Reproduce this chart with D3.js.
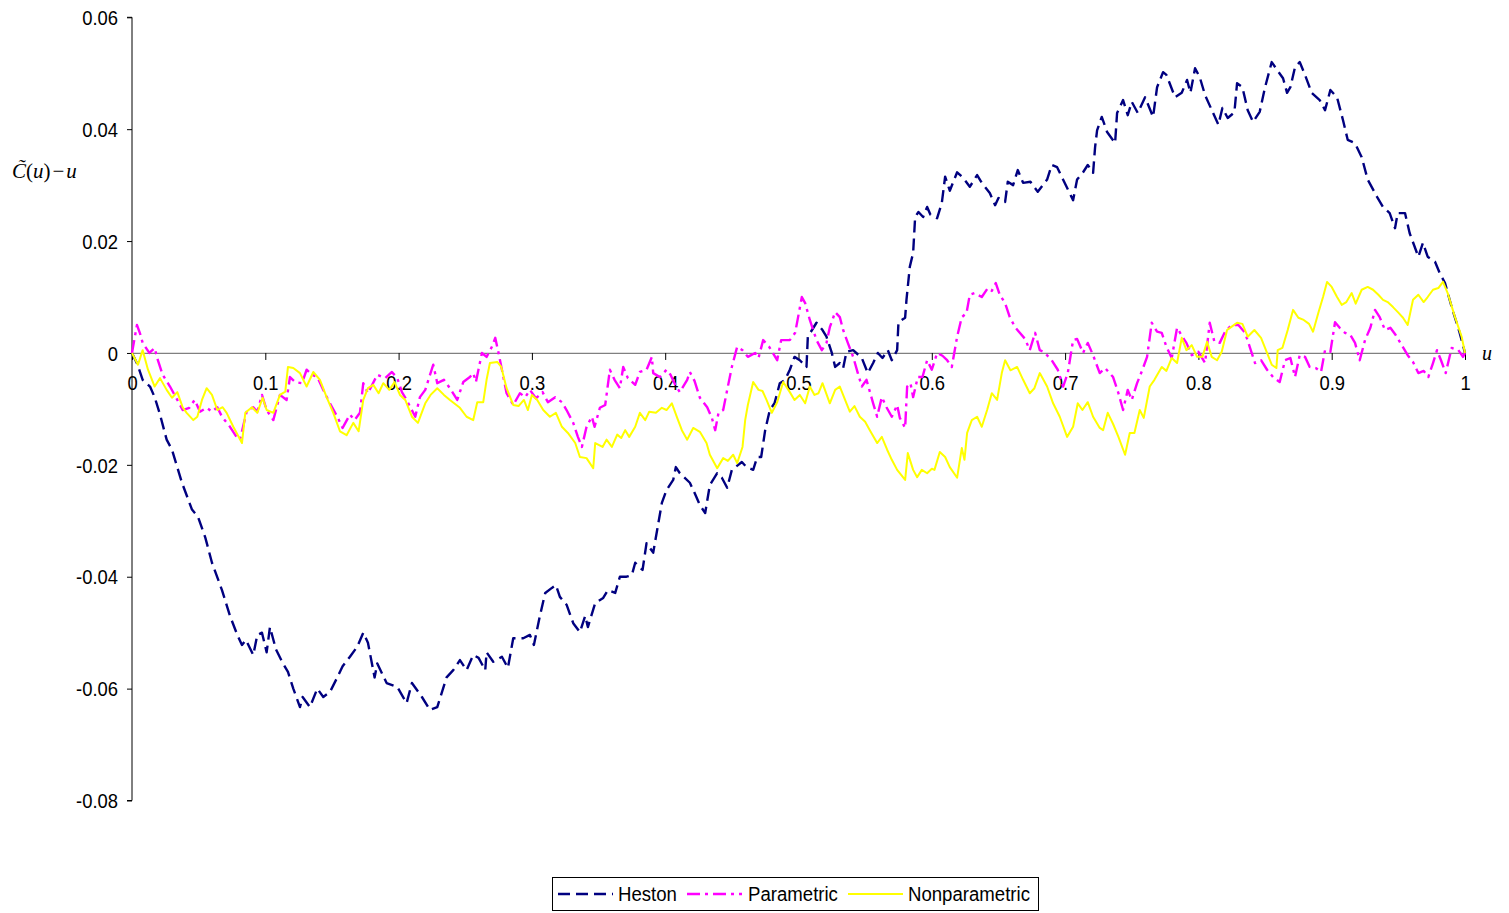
<!DOCTYPE html>
<html>
<head>
<meta charset="utf-8">
<script src="https://cdn.jsdelivr.net/npm/d3@7"></script>
<style>
  html, body { margin: 0; padding: 0; background: #fff; }
  svg { display: block; }
  .tick-label { font-family: "Liberation Sans", Arial, Helvetica, sans-serif; font-size: 20px; fill: #000; }
  .legend-text { font-family: "Liberation Sans", Arial, Helvetica, sans-serif; font-size: 20px; fill: #000; }
  .math { font-family: "Liberation Serif", "Times New Roman", serif; fill: #000; }
</style>
</head>
<body>
<svg id="chart" width="1509" height="913"></svg>
<script>
// Deviation of the estimated copula diagonal from u, for three estimators: [u, C~(u) - u]
const heston = [
  [0,0],[0.004,-0.002],[0.008,-0.0048],[0.0135,-0.006],[0.017,-0.0079],[0.021,-0.011],[0.026,-0.0155],
  [0.03,-0.0173],[0.0375,-0.0232],[0.045,-0.028],[0.0495,-0.0293],[0.055,-0.033],[0.06,-0.0375],
  [0.0675,-0.0424],[0.0735,-0.047],[0.079,-0.0504],[0.0825,-0.0522],[0.0855,-0.0513],[0.091,-0.054],
  [0.094,-0.0504],[0.0975,-0.05],[0.101,-0.0535],[0.1035,-0.049],[0.108,-0.053],[0.113,-0.0554],
  [0.117,-0.057],[0.121,-0.06],[0.126,-0.0633],[0.128,-0.0615],[0.1335,-0.0633],[0.139,-0.06],
  [0.1435,-0.0615],[0.1485,-0.0606],[0.154,-0.058],[0.158,-0.056],[0.1635,-0.0543],[0.169,-0.0525],
  [0.1735,-0.05],[0.177,-0.0518],[0.182,-0.058],[0.184,-0.0555],[0.191,-0.059],[0.199,-0.0597],
  [0.206,-0.0626],[0.21,-0.059],[0.2175,-0.0615],[0.2235,-0.0638],[0.229,-0.0633],[0.236,-0.058],
  [0.241,-0.0567],[0.246,-0.0549],[0.251,-0.0567],[0.256,-0.054],[0.26,-0.0545],[0.265,-0.0567],
  [0.266,-0.0535],[0.271,-0.0552],[0.2775,-0.0543],[0.282,-0.0563],[0.286,-0.051],[0.2935,-0.051],
  [0.2985,-0.0504],[0.3015,-0.0522],[0.306,-0.047],[0.31,-0.0429],[0.315,-0.042],[0.318,-0.0415],
  [0.321,-0.0436],[0.326,-0.045],[0.331,-0.0483],[0.336,-0.0499],[0.34,-0.047],[0.342,-0.049],
  [0.3475,-0.0447],[0.3535,-0.0438],[0.357,-0.0424],[0.3625,-0.0429],[0.366,-0.04],[0.371,-0.04],
  [0.375,-0.0397],[0.3775,-0.0375],[0.383,-0.0388],[0.386,-0.034],[0.391,-0.0357],[0.394,-0.0316],
  [0.3975,-0.0268],[0.401,-0.0245],[0.406,-0.0227],[0.408,-0.0204],[0.411,-0.0215],[0.4185,-0.0232],
  [0.422,-0.025],[0.426,-0.0272],[0.43,-0.0286],[0.4335,-0.0236],[0.439,-0.0215],[0.4425,-0.0223],
  [0.4465,-0.0241],[0.45,-0.0209],[0.4575,-0.0195],[0.461,-0.0204],[0.466,-0.0209],[0.469,-0.0186],
  [0.472,-0.0186],[0.475,-0.0138],[0.4785,-0.0102],[0.482,-0.009],[0.486,-0.0054],[0.49,-0.0048],
  [0.4935,-0.003],[0.497,-0.0007],[0.501,-0.0013],[0.506,-0.0025],[0.507,0.0029],[0.5135,0.0054],
  [0.518,0.0041],[0.521,0.0029],[0.525,0],[0.5275,-0.0025],[0.531,-0.0018],[0.5335,-0.0027],
  [0.536,0.0002],[0.541,0.0005],[0.5475,-0.0009],[0.552,-0.0036],[0.556,-0.0018],[0.5595,0],
  [0.563,-0.0009],[0.567,0.0005],[0.57,-0.0013],[0.574,0.0005],[0.575,0.0055],[0.58,0.0063],
  [0.581,0.0095],[0.5835,0.0154],[0.586,0.0179],[0.5875,0.0243],[0.59,0.0252],[0.5935,0.0243],
  [0.5965,0.0261],[0.599,0.0247],[0.604,0.0241],[0.6075,0.0268],[0.61,0.0315],[0.6135,0.029],
  [0.619,0.0323],[0.6235,0.0313],[0.6285,0.0297],[0.634,0.0318],[0.6375,0.0304],[0.6435,0.0286],
  [0.6475,0.0264],[0.65,0.0277],[0.655,0.027],[0.657,0.0306],[0.661,0.03],[0.6645,0.0327],
  [0.6685,0.0304],[0.674,0.0306],[0.6795,0.0288],[0.6865,0.031],[0.69,0.0336],[0.694,0.0332],
  [0.706,0.0273],[0.709,0.031],[0.7135,0.0323],[0.717,0.0336],[0.721,0.0322],[0.7225,0.0368],
  [0.724,0.0398],[0.7275,0.0422],[0.7315,0.0395],[0.7375,0.0375],[0.739,0.0429],[0.7435,0.0452],
  [0.747,0.0425],[0.75,0.0449],[0.7545,0.0429],[0.76,0.0457],[0.766,0.0422],[0.769,0.0475],
  [0.7735,0.0502],[0.776,0.0497],[0.7825,0.0457],[0.7875,0.0465],[0.7915,0.0488],[0.794,0.0465],
  [0.7975,0.0509],[0.801,0.0493],[0.805,0.0461],[0.811,0.0429],[0.815,0.0408],[0.818,0.0438],
  [0.822,0.042],[0.827,0.043],[0.829,0.0482],[0.833,0.0475],[0.837,0.0434],[0.841,0.0413],
  [0.846,0.0431],[0.85,0.0475],[0.855,0.052],[0.859,0.0506],[0.8635,0.0491],[0.8665,0.0465],
  [0.869,0.0475],[0.8725,0.0511],[0.876,0.052],[0.88,0.0497],[0.885,0.0465],[0.891,0.0452],
  [0.895,0.0434],[0.899,0.047],[0.904,0.0457],[0.9085,0.0416],[0.912,0.0381],[0.9175,0.0375],
  [0.9225,0.035],[0.927,0.031],[0.934,0.0279],[0.9385,0.0261],[0.9435,0.025],[0.9475,0.0223],
  [0.9495,0.025],[0.955,0.025],[0.9585,0.0214],[0.965,0.0172],[0.9685,0.0197],[0.972,0.0172],
  [0.9775,0.0163],[0.981,0.0143],[0.985,0.0125],[0.99,0.0082],[0.996,0.0036],[1,0]
];

const parametric = [
  [0,0],[0.0037,0.005],[0.006,0.0035],[0.008,0.0018],[0.013,0],[0.017,0.0009],[0.019,-0.001],
  [0.023,-0.0039],[0.0285,-0.006],[0.034,-0.0084],[0.038,-0.0102],[0.043,-0.0098],[0.047,-0.0084],
  [0.051,-0.0105],[0.056,-0.0098],[0.06,-0.0105],[0.064,-0.0097],[0.0675,-0.0114],[0.0735,-0.0132],
  [0.079,-0.0152],[0.081,-0.0155],[0.086,-0.0105],[0.091,-0.0097],[0.094,-0.0105],[0.0975,-0.0075],
  [0.101,-0.0102],[0.106,-0.012],[0.111,-0.0075],[0.116,-0.0084],[0.1185,-0.0043],[0.1225,-0.0052],
  [0.1275,-0.0054],[0.131,-0.003],[0.135,-0.0039],[0.139,-0.0043],[0.1435,-0.0066],[0.1485,-0.009],
  [0.154,-0.0114],[0.158,-0.0134],[0.1635,-0.011],[0.167,-0.012],[0.171,-0.0107],[0.1735,-0.0054],
  [0.177,-0.0072],[0.184,-0.0039],[0.19,-0.0045],[0.195,-0.0034],[0.199,-0.0045],[0.2025,-0.007],
  [0.206,-0.0084],[0.2125,-0.0114],[0.216,-0.0079],[0.22,-0.0066],[0.226,-0.0021],[0.229,-0.0054],
  [0.234,-0.0048],[0.2385,-0.0063],[0.244,-0.0084],[0.2485,-0.0052],[0.2535,-0.0043],[0.256,-0.0036],
  [0.258,-0.0052],[0.2625,0],[0.266,-0.0007],[0.27,0.0011],[0.2725,0.0027],[0.275,0],
  [0.281,-0.0072],[0.286,-0.0093],[0.291,-0.0072],[0.295,-0.0079],[0.2985,-0.0066],[0.303,-0.0081],
  [0.308,-0.007],[0.312,-0.0088],[0.3175,-0.0079],[0.3225,-0.0088],[0.326,-0.0102],[0.331,-0.0125],
  [0.3345,-0.015],[0.3375,-0.0168],[0.341,-0.0132],[0.345,-0.0114],[0.347,-0.0132],[0.351,-0.0098],
  [0.355,-0.0093],[0.3585,-0.003],[0.362,-0.0048],[0.366,-0.0063],[0.3685,-0.0025],[0.372,-0.0045],
  [0.3775,-0.0057],[0.381,-0.0034],[0.386,-0.003],[0.39,-0.0007],[0.391,-0.0036],[0.396,-0.0043],
  [0.401,-0.003],[0.404,-0.0039],[0.4075,-0.0057],[0.411,-0.007],[0.4165,-0.0048],[0.4185,-0.0034],
  [0.422,-0.005],[0.426,-0.008],[0.4315,-0.0097],[0.435,-0.0116],[0.4375,-0.0138],[0.44,-0.0107],
  [0.4435,-0.0102],[0.4465,-0.0066],[0.45,-0.0025],[0.454,0.0011],[0.458,0.0005],[0.462,-0.0007],
  [0.4675,0],[0.47,-0.0009],[0.4735,0.0023],[0.478,0.0011],[0.484,-0.0013],[0.487,0.0023],
  [0.4935,0.0023],[0.4975,0.0036],[0.5025,0.01],[0.505,0.0089],[0.5085,0.0059],[0.5135,0.0023],
  [0.5175,0.0005],[0.521,0.0018],[0.5235,0.0046],[0.5275,0.0073],[0.531,0.0064],[0.5335,0.0041],
  [0.537,0.0018],[0.541,-0.0007],[0.5445,-0.0036],[0.5475,-0.006],[0.551,-0.0048],[0.556,-0.009],
  [0.559,-0.0114],[0.5625,-0.0079],[0.566,-0.0097],[0.57,-0.0114],[0.574,-0.0093],[0.576,-0.0116],
  [0.58,-0.0134],[0.5815,-0.006],[0.584,-0.0054],[0.586,-0.0079],[0.5895,-0.0043],[0.593,-0.0043],
  [0.5965,-0.0013],[0.6,-0.003],[0.604,0],[0.608,-0.0005],[0.6115,-0.0013],[0.615,-0.0025],
  [0.619,0.0029],[0.6225,0.0064],[0.626,0.0071],[0.6285,0.0104],[0.632,0.0107],[0.6375,0.01],
  [0.642,0.0116],[0.645,0.0111],[0.648,0.0125],[0.651,0.0104],[0.655,0.0089],[0.6585,0.0064],
  [0.6625,0.0046],[0.666,0.0036],[0.67,0.0025],[0.6735,0.0005],[0.6775,0.0036],[0.681,0.0005],
  [0.684,0.0002],[0.69,-0.0013],[0.6945,-0.003],[0.6985,-0.006],[0.702,-0.0036],[0.706,0.0023],
  [0.709,0.0025],[0.7135,0],[0.717,0.0018],[0.721,-0.0004],[0.726,-0.0036],[0.73,-0.0027],
  [0.736,-0.0043],[0.74,-0.0072],[0.7435,-0.0102],[0.747,-0.0066],[0.75,-0.0084],[0.754,-0.0054],
  [0.758,-0.003],[0.7615,-0.0007],[0.765,0.0054],[0.769,0.0038],[0.7725,0.0036],[0.776,0.0011],
  [0.78,-0.0009],[0.784,0.0045],[0.788,0.0029],[0.791,0.0018],[0.795,-0.0004],[0.8,0.0002],
  [0.805,-0.0018],[0.8085,0.0054],[0.812,0.002],[0.816,0.0018],[0.82,0.0038],[0.825,0.005],
  [0.83,0.005],[0.835,0.0036],[0.8385,0.0011],[0.8425,-0.0018],[0.847,-0.0013],[0.8515,-0.003],
  [0.856,-0.0043],[0.861,-0.0052],[0.865,-0.0013],[0.869,-0.0009],[0.8725,-0.0043],[0.876,-0.0004],
  [0.88,-0.0007],[0.8835,-0.0025],[0.888,-0.0027],[0.892,-0.0034],[0.895,0.0005],[0.899,0.0002],
  [0.9025,0.0055],[0.906,0.0045],[0.91,0.0036],[0.914,0.0032],[0.9175,0.0018],[0.921,-0.0013],
  [0.925,0.0023],[0.929,0.0045],[0.9325,0.0077],[0.936,0.0064],[0.94,0.0041],[0.944,0.0045],
  [0.948,0.0032],[0.9525,0.0014],[0.957,-0.0004],[0.961,-0.0016],[0.965,-0.0036],[0.969,-0.0032],
  [0.9725,-0.0043],[0.976,-0.0018],[0.979,0.0005],[0.982,-0.0013],[0.9855,-0.0036],[0.99,0.0009],
  [0.995,0.0005],[0.9985,-0.0007],[1,0]
];

const nonparametric = [
  [0,0],[0.0045,-0.0021],[0.008,0.0005],[0.012,-0.003],[0.017,-0.006],[0.021,-0.0045],[0.026,-0.0066],
  [0.03,-0.008],[0.034,-0.007],[0.038,-0.0097],[0.041,-0.0107],[0.046,-0.012],[0.049,-0.0114],
  [0.0525,-0.0084],[0.056,-0.0063],[0.06,-0.0075],[0.064,-0.0102],[0.068,-0.0097],[0.071,-0.0107],
  [0.076,-0.0132],[0.0825,-0.0161],[0.085,-0.0107],[0.09,-0.0097],[0.094,-0.0107],[0.098,-0.008],
  [0.101,-0.0102],[0.106,-0.0107],[0.111,-0.0075],[0.115,-0.0069],[0.117,-0.0025],[0.121,-0.0027],
  [0.126,-0.0036],[0.131,-0.006],[0.136,-0.0034],[0.141,-0.0048],[0.146,-0.0079],[0.151,-0.0107],
  [0.156,-0.014],[0.161,-0.0147],[0.166,-0.0125],[0.17,-0.014],[0.1735,-0.0084],[0.177,-0.0063],
  [0.181,-0.0057],[0.185,-0.0072],[0.1885,-0.0054],[0.193,-0.0066],[0.197,-0.0052],[0.201,-0.0075],
  [0.205,-0.0084],[0.21,-0.0114],[0.2145,-0.0125],[0.22,-0.009],[0.224,-0.0075],[0.229,-0.0063],
  [0.234,-0.0075],[0.2385,-0.0084],[0.246,-0.0098],[0.251,-0.0114],[0.256,-0.012],[0.259,-0.0088],
  [0.2635,-0.0088],[0.266,-0.0048],[0.2685,-0.0018],[0.274,-0.0016],[0.277,-0.0025],[0.281,-0.0063],
  [0.286,-0.0093],[0.29,-0.0095],[0.294,-0.0084],[0.297,-0.0102],[0.3,-0.0075],[0.304,-0.0084],
  [0.3085,-0.0102],[0.3135,-0.0114],[0.318,-0.0107],[0.3225,-0.0132],[0.327,-0.0143],[0.3325,-0.0161],
  [0.336,-0.0186],[0.341,-0.0188],[0.346,-0.0206],[0.3475,-0.0161],[0.353,-0.0168],[0.356,-0.0155],
  [0.36,-0.0168],[0.364,-0.0146],[0.367,-0.0152],[0.37,-0.0138],[0.373,-0.015],[0.3775,-0.0132],
  [0.381,-0.0107],[0.385,-0.012],[0.388,-0.0105],[0.393,-0.0107],[0.3975,-0.0098],[0.401,-0.0102],
  [0.405,-0.009],[0.409,-0.0116],[0.4125,-0.0138],[0.4165,-0.0155],[0.421,-0.0134],[0.426,-0.0141],
  [0.431,-0.0161],[0.4335,-0.0182],[0.439,-0.0206],[0.4435,-0.0188],[0.447,-0.0193],[0.451,-0.0182],
  [0.454,-0.0197],[0.458,-0.0168],[0.46,-0.012],[0.462,-0.0093],[0.466,-0.0052],[0.47,-0.0066],
  [0.473,-0.0068],[0.476,-0.0084],[0.48,-0.0107],[0.484,-0.0088],[0.4885,-0.0052],[0.4935,-0.007],
  [0.497,-0.0084],[0.501,-0.0075],[0.505,-0.009],[0.5085,-0.006],[0.512,-0.0075],[0.515,-0.0072],
  [0.518,-0.0054],[0.5235,-0.009],[0.5275,-0.0066],[0.531,-0.006],[0.536,-0.009],[0.5385,-0.0105],
  [0.542,-0.0095],[0.546,-0.0114],[0.55,-0.0123],[0.5535,-0.0138],[0.559,-0.0161],[0.5625,-0.015],
  [0.5665,-0.0173],[0.57,-0.0191],[0.574,-0.0209],[0.58,-0.0227],[0.582,-0.0179],[0.586,-0.0209],
  [0.589,-0.0222],[0.5925,-0.0209],[0.5965,-0.0215],[0.6,-0.0207],[0.602,-0.0209],[0.606,-0.0177],
  [0.61,-0.0186],[0.6135,-0.0204],[0.619,-0.0223],[0.6225,-0.017],[0.6245,-0.0191],[0.6265,-0.0143],
  [0.63,-0.012],[0.634,-0.0114],[0.6375,-0.0132],[0.6415,-0.0102],[0.645,-0.0072],[0.649,-0.0084],
  [0.6525,-0.0036],[0.655,-0.0013],[0.659,-0.0031],[0.664,-0.0025],[0.6685,-0.0048],[0.6735,-0.0072],
  [0.677,-0.0063],[0.681,-0.0036],[0.6865,-0.006],[0.691,-0.009],[0.696,-0.0114],[0.7015,-0.015],
  [0.706,-0.0132],[0.7095,-0.009],[0.713,-0.0102],[0.717,-0.0088],[0.721,-0.0114],[0.726,-0.0134],
  [0.7285,-0.0138],[0.732,-0.0107],[0.736,-0.0127],[0.74,-0.015],[0.745,-0.0182],[0.7485,-0.0143],
  [0.752,-0.0143],[0.756,-0.0102],[0.759,-0.0116],[0.7635,-0.006],[0.767,-0.0048],[0.7725,-0.0025],
  [0.776,-0.0032],[0.78,-0.0009],[0.784,-0.0018],[0.7875,0.0027],[0.791,0.0005],[0.795,0.0014],
  [0.799,-0.0007],[0.803,-0.0007],[0.8065,0.002],[0.81,-0.0007],[0.814,-0.0013],[0.8175,0.0002],
  [0.8215,0.0041],[0.825,0.0047],[0.829,0.0054],[0.833,0.0052],[0.837,0.0029],[0.842,0.0041],
  [0.847,0.0027],[0.8515,0],[0.855,-0.0021],[0.8585,-0.0027],[0.8595,0.0005],[0.863,0.0009],
  [0.867,0.0041],[0.871,0.0077],[0.875,0.0063],[0.879,0.0059],[0.883,0.0052],[0.886,0.0038],
  [0.89,0.0072],[0.8935,0.01],[0.8965,0.0127],[0.9,0.0118],[0.904,0.01],[0.9075,0.0086],
  [0.911,0.0091],[0.915,0.0107],[0.918,0.0088],[0.9225,0.0113],[0.927,0.0118],[0.931,0.0113],
  [0.935,0.0104],[0.9385,0.0095],[0.942,0.0091],[0.946,0.0082],[0.95,0.0072],[0.9535,0.0063],
  [0.957,0.005],[0.961,0.0095],[0.965,0.0104],[0.969,0.0091],[0.972,0.01],[0.976,0.0113],
  [0.98,0.0116],[0.9835,0.0127],[0.987,0.0107],[0.9925,0.0064],[0.9975,0.0029],[1,0]
];

const seriesNames = ["Heston", "Parametric", "Nonparametric"];
const xTicks = [0, 0.1, 0.2, 0.3, 0.4, 0.5, 0.6, 0.7, 0.8, 0.9, 1];
const yTicks = [0.06, 0.04, 0.02, 0, -0.02, -0.04, -0.06, -0.08];

const svg = d3.select("#chart");

const x = d3.scaleLinear().domain([0, 1]).range([132, 1465]);
const y = d3.scaleLinear().domain([-0.08, 0.06]).range([800.5, 17.3]);

const styles = [
  { data: heston,        color: "#000080", width: 2.4, dash: "12,6" },
  { data: parametric,    color: "#FF00FF", width: 2.4, dash: "13,5,3,5" },
  { data: nonparametric, color: "#FFFF00", width: 2.0, dash: null }
];

// Slightly condensed sans text, as in the original plotting software
function condense(sel, k) {
  sel.each(function () {
    const len = this.getComputedTextLength();
    d3.select(this).attr("textLength", len * k).attr("lengthAdjust", "spacingAndGlyphs");
  });
}

// Vertical axis with outward ticks
const yAxis = d3.axisLeft(y)
  .tickValues(yTicks)
  .tickSize(5)
  .tickPadding(9)
  .tickFormat(d => d === 0 ? "0" : d.toFixed(2));

const gy = svg.append("g")
  .attr("transform", `translate(${x(0)},0)`)
  .call(yAxis);
gy.attr("font-family", null).attr("font-size", null);
gy.select(".domain").attr("stroke", "#000").attr("stroke-width", 1).attr("d", `M-5,${y(0.06)}H0V${y(-0.08)}H-5`);
gy.selectAll(".tick line").attr("stroke", "#000");
gy.selectAll(".tick text")
  .attr("class", "tick-label")
  .attr("dy", "0.36em")
  .call(condense, 0.92);

// Horizontal axis drawn through zero
const xAxis = d3.axisBottom(x)
  .tickValues(xTicks)
  .tickSize(7)
  .tickSizeOuter(0)
  .tickPadding(16)
  .tickFormat(d3.format("~g"));

const gx = svg.append("g")
  .attr("transform", `translate(0,${y(0)})`)
  .call(xAxis);
gx.attr("font-family", null).attr("font-size", null);
gx.select(".domain").attr("stroke", "#808080").attr("stroke-width", 1.2);
gx.selectAll(".tick line").attr("stroke", "#000");
gx.selectAll(".tick text")
  .attr("class", "tick-label")
  .call(condense, 0.92);

// Series lines
const line = d3.line().x(d => x(d[0])).y(d => y(d[1]));

styles.forEach(s => {
  svg.append("path")
    .datum(s.data)
    .attr("fill", "none")
    .attr("stroke", s.color)
    .attr("stroke-width", s.width)
    .attr("stroke-linejoin", "round")
    .attr("stroke-dasharray", s.dash)
    .attr("d", line);
});

// Axis titles
const yTitle = svg.append("text").attr("class", "math").attr("x", 12).attr("y", 178).attr("font-size", 21);
yTitle.append("tspan").attr("font-style", "italic").text("C\u0303");
yTitle.append("tspan").text("(");
yTitle.append("tspan").attr("font-style", "italic").text("u");
yTitle.append("tspan").text(")");
yTitle.append("tspan").attr("dx", 2).text("\u2212");
yTitle.append("tspan").attr("dx", 2).attr("font-style", "italic").text("u");

svg.append("text").attr("class", "math")
  .attr("x", 1482).attr("y", 360)
  .attr("font-size", 20).attr("font-style", "italic").text("u");

// Legend
const legend = svg.append("g");
legend.append("rect")
  .attr("x", 552.5).attr("y", 877.5).attr("width", 486).attr("height", 33)
  .attr("fill", "#fff").attr("stroke", "#000").attr("stroke-width", 1);

const legendItems = [
  { sx: 558, tx: 618 },
  { sx: 687, tx: 748 },
  { sx: 848, tx: 908 }
];
legendItems.forEach((it, i) => {
  const s = styles[i];
  legend.append("line")
    .attr("x1", it.sx).attr("x2", it.sx + 55)
    .attr("y1", 894).attr("y2", 894)
    .attr("stroke", s.color)
    .attr("stroke-width", s.width)
    .attr("stroke-dasharray", s.dash);
  legend.append("text")
    .attr("class", "legend-text")
    .attr("x", it.tx).attr("y", 901)
    .text(seriesNames[i])
    .call(condense, 0.93);
});
</script>
</body>
</html>
